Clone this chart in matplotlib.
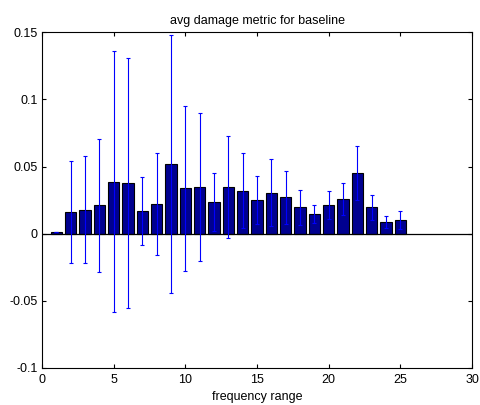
import matplotlib
matplotlib.use("Agg")
import matplotlib.pyplot as plt
import numpy as np

plt.rcParams['font.family'] = ['Liberation Sans', 'DejaVu Sans']

freq = list(range(1, 26))
means = [0.001, 0.0158, 0.018, 0.021, 0.0387, 0.038, 0.017, 0.022, 0.052, 0.0337,
         0.0345, 0.0235, 0.0345, 0.032, 0.025, 0.0305, 0.027, 0.0195, 0.0148, 0.0215,
         0.026, 0.0452, 0.0195, 0.0085, 0.0102]
errs = [0.0, 0.038, 0.040, 0.0495, 0.097, 0.093, 0.0253, 0.038, 0.0958, 0.0613,
        0.055, 0.0217, 0.038, 0.028, 0.018, 0.025, 0.0198, 0.013, 0.0065, 0.0105,
        0.0118, 0.020, 0.0093, 0.0044, 0.0069]
yticks = [-0.1, -0.05, 0, 0.05, 0.1, 0.15]
ytick_labels = ['-0.1', '-0.05', '0', '0.05', '0.1', '0.15']
xticks = [0, 5, 10, 15, 20, 25, 30]

fig = plt.figure(figsize=(4.8, 4.05), dpi=100)
ax = fig.add_axes([0.0875, 0.0914, 0.896, 0.829])
ax.bar(freq, means, width=0.8, color=(0, 0, 0.5625), edgecolor='black', linewidth=0.8, zorder=2)
ax.axhline(0, color='black', linewidth=0.9, zorder=3)
ax.errorbar(freq, means, yerr=errs, fmt='none', ecolor='blue', elinewidth=0.8,
            capsize=1.5, capthick=0.8, zorder=4)
ax.set_xlim(0, 30)
ax.set_ylim(-0.1, 0.15)
ax.set_xticks(xticks)
ax.set_xticklabels([str(v) for v in xticks])
ax.set_yticks(yticks)
ax.set_yticklabels(ytick_labels)
ax.tick_params(direction='in', top=True, right=True, labelsize=9, length=3, width=0.8)
ax.tick_params(axis='y', pad=3)
ax.tick_params(axis='x', pad=4)
for s in ax.spines.values():
    s.set_linewidth(0.8)
ax.set_title('avg damage metric for baseline', fontsize=9, pad=6)
ax.set_xlabel('frequency range', fontsize=9, labelpad=4)
fig.savefig('out.png', dpi=100)
